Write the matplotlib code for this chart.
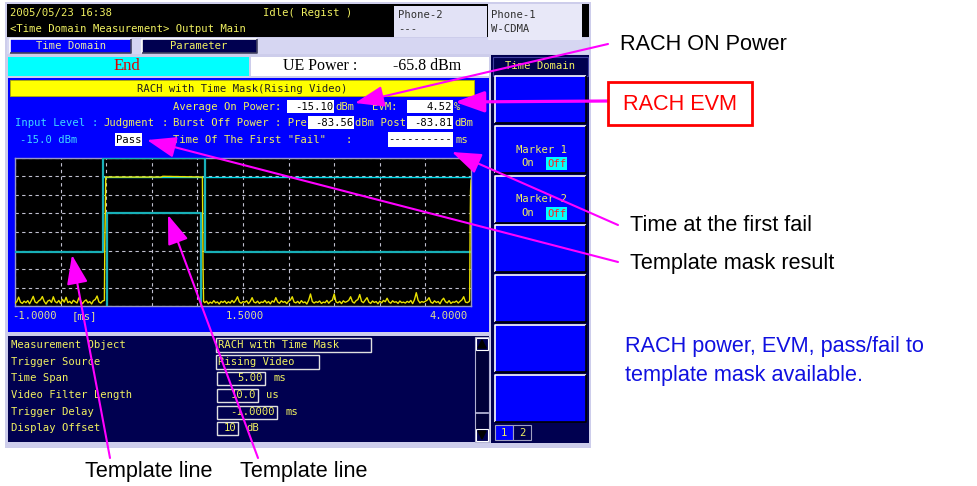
import numpy as np
import matplotlib
matplotlib.use('Agg')
import matplotlib.pyplot as plt
from matplotlib.patches import Rectangle, Polygon

# ---------------- data ----------------
time_min, time_max = -1.0, 4.0
level_top, level_bottom = 0.0, -80.0
x_divisions = 10
y_divisions = 8

upper_template_t = [-1.0, -0.03, -0.03, 1.083, 1.083, 4.0]
upper_template_db = [-51.0, -51.0, 0.0, 0.0, -51.0, -51.0]
ref_line_t = [-0.03, 4.0]
ref_line_db = [-10.3, -10.3]
lower_template_t = [0.012, 0.012, 1.039, 1.039]
lower_template_db = [-80.0, -30.0, -30.0, -80.0]

noise_pre_start, noise_pre_end = -1.0, -0.04
noise_pre_db = [-78.5, -77.6, -75.2, -77.9, -78.6, -77.4, -78.2, -77.1, -78.8, -76.9,
                -74.8, -77.8, -78.4, -77.2, -76.6, -74.9, -77.5, -78.9, -77.3, -76.8,
                -78.1, -75.0, -77.6, -78.3, -77.0, -78.7, -76.4, -77.9, -75.3, -78.2,
                -77.5, -78.6, -76.9, -77.7, -78.4, -75.6, -77.2, -78.8, -77.4, -76.7,
                -78.3, -77.6, -78.9, -77.1, -76.5, -74.6, -77.8, -78.4, -77.3]
rise_t = [-0.02, -0.015, -0.01, -0.005]
rise_db = [-77.0, -45.0, -30.0, -10.3]
burst_t = [0.3, 0.6, 0.62, 1.055]
burst_db = [-10.3, -10.3, -9.9, -10.3]
fall_t = [1.058, 1.062, 1.068]
fall_db = [-30.0, -60.0, -77.5]
noise_post_start, noise_post_end = 1.08, 3.98
noise_post_db = [-78.2, -77.4, -78.8, -77.9, -78.5, -77.1, -78.3, -77.8, -78.9, -77.5,
                 -78.1, -77.3, -78.6, -77.7, -78.4, -77.0, -78.2, -76.9, -75.0, -77.8,
                 -78.5, -77.6, -78.0, -77.2, -78.7, -77.5, -75.5, -77.9, -78.3, -77.4,
                 -78.6, -77.8, -78.1, -77.0, -78.4, -77.6, -78.8, -77.3, -77.9, -75.5,
                 -77.8, -78.5, -77.2, -78.0, -77.6, -78.7, -77.4, -76.8, -75.0, -77.9,
                 -78.3, -77.5, -78.6, -77.1, -78.2, -77.8, -78.9, -76.9, -73.5, -77.6,
                 -78.4, -77.7, -78.1, -77.3, -78.6, -77.9, -78.2, -77.0, -78.5, -77.4,
                 -76.8, -73.5, -77.8, -78.3, -77.5, -78.7, -77.2, -78.0, -77.6, -76.9,
                 -75.0, -77.7, -78.4, -77.1, -76.5, -73.8, -77.5, -78.2, -76.8, -75.5,
                 -77.9, -78.6, -77.3, -78.1, -77.6, -78.8, -77.4, -78.3, -77.0, -77.7,
                 -75.8, -77.8, -78.5, -77.2, -78.0, -77.7, -78.6, -77.3, -78.2, -77.9,
                 -78.4, -77.5, -78.1, -77.0, -78.7, -76.6, -72.8, -76.9, -78.3, -77.6,
                 -78.0, -77.4, -76.8, -75.5, -77.9, -78.5, -77.2, -78.1, -77.6, -78.8,
                 -76.9, -75.8, -77.7, -78.3, -77.1, -78.6, -77.8, -78.0, -77.3, -78.4,
                 -77.5, -76.7, -75.0, -77.9, -78.2, -77.6]
end_rise_t = [3.985, 3.99, 3.995, 4.0]
end_rise_db = [-77.0, -40.0, -18.0, -12.0]

tick_labels = ['-1.0000', '[ms]', '1.5000', '4.0000']

header_date = '2005/05/23 16:38'
header_title = '<Time Domain Measurement> Output Main'
header_status = 'Idle( Regist )'
phone2 = ['Phone-2', '---']
phone1 = ['Phone-1', 'W-CDMA']
tabs = ['Time Domain', 'Parameter']
ue_power = '-65.8 dBm'
meas_title = 'RACH with Time Mask(Rising Video)'
avg_on_power = '-15.10'
evm_value = '4.52'
burst_off_pre = '-83.56'
burst_off_post = '-83.81'
input_level = '-15.0 dBm'
judgment = 'Pass'
first_fail = '----------'

param_labels = ['Measurement Object', 'Trigger Source', 'Time Span',
                'Video Filter Length', 'Trigger Delay', 'Display Offset']
param_values = ['RACH with Time Mask', 'Rising Video', '5.00', '10.0', '-1.0000', '10']
param_units = ['', '', 'ms', 'us', 'ms', 'dB']

callouts = ['RACH ON Power', 'RACH EVM', 'Time at the first fail',
            'Template mask result', 'Template line', 'Template line']
summary = ['RACH power, EVM, pass/fail to', 'template mask available.']

# ---------------- figure ----------------
W, H = 977, 486
fig = plt.figure(figsize=(W / 100, H / 100), dpi=100)
fig.patch.set_facecolor('white')
bg = fig.add_axes([0, 0, 1, 1])
bg.set_xlim(0, W)
bg.set_ylim(H, 0)
bg.axis('off')

MONO = 'DejaVu Sans Mono'
SERIF = 'Liberation Serif'
SANS = 'Liberation Sans'
FS = 7.6
YEL = '#F0F060'
CYA = '#40D8FF'
NAVY = '#000050'
BLUE = '#0000FF'
LAV = '#CDCDEB'


def rect(ax, x0, y0, x1, y1, fc, ec='none', lw=0, z=1):
    ax.add_patch(Rectangle((x0, y0), x1 - x0, y1 - y0, facecolor=fc,
                           edgecolor=ec, linewidth=lw, zorder=z))


def txt(ax, x, y, s, color=YEL, size=FS, family=MONO, ha='left', va='center', z=5):
    ax.text(x, y, s, color=color, fontsize=size, family=family, ha=ha, va=va, zorder=z)


def bevel(ax, x0, y0, x1, y1, fc, light='white', dark='black', z=2):
    rect(ax, x0, y0, x1, y1, fc, z=z)
    ax.plot([x0, x0, x1], [y1, y0, y0], color=light, lw=1.2, zorder=z + 0.1,
            solid_capstyle='butt')
    ax.plot([x0, x1, x1], [y1, y1, y0], color=dark, lw=1.2, zorder=z + 0.1,
            solid_capstyle='butt')


# screen frame
rect(bg, 5, 2, 591, 448, LAV)
rect(bg, 7, 4, 589, 37, 'black')
rect(bg, 394, 6, 487, 37, '#E2E2F6', z=2)
rect(bg, 488, 4, 582, 40, '#E8E8F8', z=2)
txt(bg, 10, 13, header_date)
txt(bg, 10, 29, header_title)
txt(bg, 263, 13, header_status)
txt(bg, 398, 15, phone2[0], color='#303030')
txt(bg, 398, 29, phone2[1], color='#303030')
txt(bg, 491, 15, phone1[0], color='#303030')
txt(bg, 491, 29, phone1[1], color='#303030')

# tab row
rect(bg, 7, 38, 589, 54, '#D6D6F2')
bevel(bg, 10, 39, 131, 53, BLUE, light='white', dark='#404060')
txt(bg, 71, 46, tabs[0], color='#E8E8A8', ha='center')
bevel(bg, 142, 39, 257, 53, NAVY, light='white', dark='#404060')
txt(bg, 199, 46, tabs[1], color=YEL, ha='center')

# status row
rect(bg, 8, 57, 249, 76, '#00FFFF')
txt(bg, 127, 66.5, 'End', color='#E00000', size=12, family=SERIF, ha='center')
rect(bg, 251, 57, 489, 76, 'white')
txt(bg, 283, 66.5, 'UE Power :', color='black', size=11.5, family=SERIF)
txt(bg, 393, 66.5, ue_power, color='black', size=11.5, family=SERIF)

# right panel
rect(bg, 491, 55, 589, 443, NAVY)
rect(bg, 493, 57, 588, 76, NAVY, ec='#4040A0', lw=0.8)
txt(bg, 540, 66, 'Time Domain', ha='center')
btn_tops = [76, 126, 176, 225, 275, 325, 375]
for bt in btn_tops:
    bevel(bg, 495, bt, 586, bt + 47, BLUE, light='white', dark='black')
txt(bg, 541, 150, 'Marker 1', ha='center')
txt(bg, 528, 163, 'On', ha='center')
rect(bg, 546, 157, 567, 170, '#00FFFF', z=3)
txt(bg, 556.5, 163.5, 'Off', color='#FF2020', ha='center')
txt(bg, 541, 199, 'Marker 2', ha='center')
txt(bg, 528, 213, 'On', ha='center')
rect(bg, 546, 207, 567, 220, '#00FFFF', z=3)
txt(bg, 556.5, 213.5, 'Off', color='#FF2020', ha='center')
rect(bg, 495, 425, 513, 440, BLUE, ec='#A0A0C0', lw=0.8, z=2)
txt(bg, 504, 432.5, '1', ha='center')
rect(bg, 513, 425, 531, 440, NAVY, ec='#A0A0C0', lw=0.8, z=2)
txt(bg, 522, 432.5, '2', ha='center')

# measurement panel
rect(bg, 8, 78, 489, 332, BLUE)
rect(bg, 10, 80, 474, 96, '#FFFF00', ec='#B0B000', lw=0.6, z=2)
txt(bg, 242, 88.5, meas_title, color='#202020', ha='center')

r1, r2, r3 = 107, 122.5, 139.5
txt(bg, 173, r1, 'Average On Power:')
rect(bg, 287, 100, 334, 113, 'white', z=2)
txt(bg, 333, r1, avg_on_power, color='black', ha='right')
txt(bg, 335, r1, 'dBm')
txt(bg, 372, r1, 'EVM:')
rect(bg, 407, 100, 453, 113, 'white', z=2)
txt(bg, 452, r1, evm_value, color='black', ha='right')
txt(bg, 454, r1, '%')

txt(bg, 15, r2, 'Input Level', color=CYA)
txt(bg, 91, r2, ':', color=CYA)
txt(bg, 103, r2, 'Judgment')
txt(bg, 161, r2, ':')
txt(bg, 173, r2, 'Burst Off Power : Pre')
rect(bg, 308, 116, 354, 129, 'white', z=2)
txt(bg, 353, r2, burst_off_pre, color='black', ha='right')
txt(bg, 355, r2, 'dBm Post')
rect(bg, 407, 116, 453, 129, 'white', z=2)
txt(bg, 452, r2, burst_off_post, color='black', ha='right')
txt(bg, 454, r2, 'dBm')

txt(bg, 20, r3, input_level, color=CYA)
rect(bg, 115, 133, 142, 146, 'white', z=2)
txt(bg, 128.5, r3, judgment, color='black', ha='center')
txt(bg, 173, r3, 'Time Of The First "Fail"')
txt(bg, 345, r3, ':')
rect(bg, 388, 132, 453, 147, 'white', z=2)
txt(bg, 452, r3, first_fail, color='black', ha='right')
txt(bg, 455, r3, 'ms')

# tick labels of the trace
txt(bg, 12, 316, tick_labels[0], color='#E0E090')
txt(bg, 72, 316, tick_labels[1], color='#E0E090')
txt(bg, 245, 316, tick_labels[2], color='#E0E090', ha='center')
txt(bg, 468, 316, tick_labels[3], color='#E0E090', ha='right')

# parameter panel
rect(bg, 8, 336, 489, 442, NAVY)
rows_y = [345, 362, 378, 395, 412, 428]
box_right = [371, 319, 265, 258, 277, 238]
for i, (lab, val, unit) in enumerate(zip(param_labels, param_values, param_units)):
    y = rows_y[i]
    txt(bg, 11, y, lab)
    if i < 2:
        rect(bg, 216, y - 7, box_right[i], y + 7, 'none', ec='#E0E0E0', lw=1, z=3)
        txt(bg, 218, y, val)
    else:
        rect(bg, 217, y - 6.5, box_right[i], y + 6.5, 'none', ec='#E0E0E0', lw=1, z=3)
        txt(bg, box_right[i] - 2, y, val, ha='right')
        txt(bg, box_right[i] + 8, y, unit)
# scrollbar
rect(bg, 475, 337, 489, 442, '#000038', ec='#B0B0D0', lw=0.8, z=2)
rect(bg, 476, 338, 488, 350, NAVY, ec='white', lw=0.8, z=3)
rect(bg, 476, 429, 488, 441, NAVY, ec='white', lw=0.8, z=3)
bg.add_patch(Polygon([[478, 348], [486, 348], [482, 340]], closed=True, color='black', zorder=4))
bg.add_patch(Polygon([[478, 431], [486, 431], [482, 439]], closed=True, color='black', zorder=4))
bg.plot([476, 488], [413, 413], color='#C0C0E0', lw=1.2, zorder=4)

# ---------------- trace chart ----------------
cx0, cy0, cx1, cy1 = 15, 158, 471, 306
ax = fig.add_axes([cx0 / W, 1 - cy1 / H, (cx1 - cx0) / W, (cy1 - cy0) / H])
ax.set_facecolor('black')
ax.set_xlim(time_min, time_max)
ax.set_ylim(level_bottom, level_top)
ax.set_xticks(np.linspace(time_min, time_max, x_divisions + 1))
ax.set_yticks(np.linspace(level_bottom, level_top, y_divisions + 1))
ax.tick_params(length=0, labelbottom=False, labelleft=False)
ax.grid(True, color='#C0C0D0', lw=0.8, linestyle=(0, (3, 3)))
for s in ax.spines.values():
    s.set_color('#9898C8')
    s.set_linewidth(1.0)

t_pre = np.linspace(noise_pre_start, noise_pre_end, len(noise_pre_db))
t_post = np.linspace(noise_post_start, noise_post_end, len(noise_post_db))
sig_t = np.concatenate([t_pre, rise_t, burst_t, fall_t, t_post, end_rise_t])
sig_db = np.concatenate([noise_pre_db, rise_db, burst_db, fall_db, noise_post_db, end_rise_db])

ax.plot(ref_line_t, ref_line_db, color='#00D8E8', lw=1.0, zorder=3)
ax.plot(upper_template_t, upper_template_db, color='#18B0B8', lw=1.6, zorder=3)
ax.plot(lower_template_t, lower_template_db, color='#18B0B8', lw=1.6, zorder=3)
ax.plot(sig_t, sig_db, color='#E8E000', lw=1.0, zorder=4)

# ---------------- overlay annotations ----------------
ov = fig.add_axes([0, 0, 1, 1])
ov.set_xlim(0, W)
ov.set_ylim(H, 0)
ov.axis('off')
ov.patch.set_alpha(0)

MAG = '#FF00FF'
LFS = 15.6


def arrow(start, tip, lw=1.5):
    ov.annotate('', xy=tip, xytext=start,
                arrowprops=dict(arrowstyle='-|>,head_length=18,head_width=6.5',
                                mutation_scale=1, color=MAG, lw=lw,
                                shrinkA=0, shrinkB=0))


arrow((608, 44), (355, 103))
arrow((608, 101), (455, 102), lw=2.3)
arrow((618, 225), (452, 152))
arrow((618, 262), (147, 140))
arrow((110, 458), (72, 255))
arrow((258, 458), (168, 215))

txt(ov, 620, 45, callouts[0], color='black', size=LFS, family=SANS)
ov.add_patch(Rectangle((608, 82), 144, 43, facecolor='white', edgecolor='#FF0000',
                       linewidth=2.0, zorder=5))
txt(ov, 680, 104, callouts[1], color='#FF0000', size=LFS, family=SANS, ha='center', z=6)
txt(ov, 630, 225, callouts[2], color='black', size=LFS, family=SANS)
txt(ov, 630, 263, callouts[3], color='black', size=LFS, family=SANS)
txt(ov, 85, 471, callouts[4], color='black', size=LFS, family=SANS)
txt(ov, 240, 471, callouts[5], color='black', size=LFS, family=SANS)
txt(ov, 625, 346, summary[0], color='#1010E0', size=LFS, family=SANS)
txt(ov, 625, 375, summary[1], color='#1010E0', size=LFS, family=SANS)

fig.savefig('out.png', dpi=100, facecolor='white')
